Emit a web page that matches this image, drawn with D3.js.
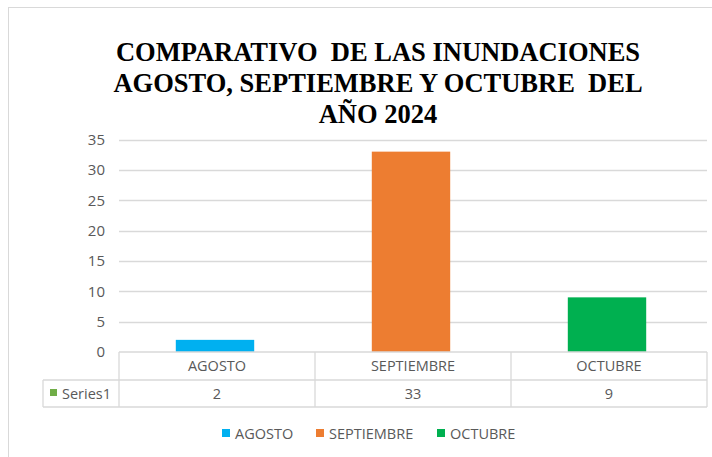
<!DOCTYPE html>
<html>
<head>
<meta charset="utf-8">
<script src="https://cdn.jsdelivr.net/npm/d3@7"></script>
<style>
  body { margin: 0; background: #fff; }
  svg text { font-family: "Open Sans", "Noto Sans", sans-serif; }
</style>
</head>
<body>
<div id="chart"></div>
<script>
// datos del grafico
const meses = ["AGOSTO", "SEPTIEMBRE", "OCTUBRE"];
const inundaciones = [2, 33, 9];
const colores = ["#00B0F0", "#ED7D31", "#00B050"];
const yTicks = [0, 5, 10, 15, 20, 25, 30, 35];
const serieNombre = "Series1";
const titulo = ["COMPARATIVO  DE LAS INUNDACIONES", "AGOSTO, SEPTIEMBRE Y OCTUBRE  DEL", "AÑO 2024"];

var width = 712
var height = 457

var svg = d3.select("#chart")
  .append("svg")
    .attr("width", width)
    .attr("height", height)

// borde del area del grafico
svg.append("rect")
  .attr("x", 8.5).attr("y", 7.5)
  .attr("width", 720).attr("height", 470)
  .attr("fill", "none")
  .attr("stroke", "#D9D9D9")

// titulo
svg.append("g").selectAll("text")
  .data(titulo)
  .enter()
  .append("text")
    .attr("x", 378)
    .attr("y", (d, i) => 61 + i * 31)
    .attr("text-anchor", "middle")
    .style("white-space", "pre")
    .style("font-family", "'Liberation Serif', 'Times New Roman', serif")
    .style("font-weight", "bold")
    .style("font-size", "26.5px")
    .style("fill", "#000")
    .text(d => d)

var mLeft = 119, mRight = 707, mTop = 139.5, mBottom = 352

var x = d3.scaleBand()
  .domain(meses)
  .range([mLeft, mRight])
  .paddingInner(0)
  .paddingOuter(0)

var y = d3.scaleLinear()
  .domain([0, 35])
  .range([mBottom, mTop])

// lineas de la cuadricula
svg.append("g")
  .selectAll("line")
  .data(yTicks.filter(t => t > 0))
  .enter()
  .append("line")
    .attr("x1", mLeft).attr("x2", mRight)
    .attr("y1", d => Math.round(y(d)) + 0.5)
    .attr("y2", d => Math.round(y(d)) + 0.5)
    .attr("stroke", "#D9D9D9")
    .attr("stroke-width", 1.3)

// eje y
var yAxis = svg.append("g")
  .attr("transform", "translate(" + (mLeft - 14) + ",0)")
  .call(d3.axisLeft(y).tickValues(yTicks).tickSize(0).tickPadding(0))
yAxis.select(".domain").remove()
yAxis.selectAll("text")
  .style("font-family", "'Open Sans', sans-serif")
  .style("font-size", "15px")
  .style("fill", "#595959")

// barras
var barW = x.bandwidth() * 0.4
svg.append("g")
  .selectAll("rect")
  .data(meses)
  .enter()
  .append("rect")
    .attr("x", d => x(d) + (x.bandwidth() - barW) / 2 - 2)
    .attr("y", (d, i) => y(inundaciones[i]))
    .attr("width", barW)
    .attr("height", (d, i) => mBottom - y(inundaciones[i]))
    .attr("fill", (d, i) => colores[i])

// tabla de datos
var row1 = mBottom, row2 = 380, row3 = 407, tableLeft = 43
var tabla = svg.append("g")
  .attr("stroke", "#D9D9D9")
  .attr("stroke-width", 1.3)
  .attr("fill", "none")

tabla.append("line").attr("x1", mLeft).attr("x2", mRight).attr("y1", row1).attr("y2", row1)
tabla.append("line").attr("x1", tableLeft).attr("x2", mRight).attr("y1", row2).attr("y2", row2)
tabla.append("line").attr("x1", tableLeft).attr("x2", mRight).attr("y1", row3).attr("y2", row3)
tabla.append("line").attr("x1", tableLeft).attr("x2", tableLeft).attr("y1", row2).attr("y2", row3)
tabla.selectAll(".v")
  .data(meses.map(m => x(m)).concat([mRight]))
  .enter()
  .append("line")
    .attr("x1", d => d).attr("x2", d => d)
    .attr("y1", row1).attr("y2", row3)

svg.append("g")
  .selectAll("text")
  .data(meses)
  .enter()
  .append("text")
    .attr("x", d => x(d) + x.bandwidth() / 2)
    .attr("y", 371)
    .attr("text-anchor", "middle")
    .style("font-size", "14.5px")
    .style("fill", "#595959")
    .text(d => d)

svg.append("g")
  .selectAll("text")
  .data(inundaciones)
  .enter()
  .append("text")
    .attr("x", (d, i) => x(meses[i]) + x.bandwidth() / 2)
    .attr("y", 399)
    .attr("text-anchor", "middle")
    .style("font-size", "14.5px")
    .style("fill", "#595959")
    .text(d => d)

svg.append("rect")
  .attr("x", 50).attr("y", 389)
  .attr("width", 7).attr("height", 7)
  .attr("fill", "#70AD47")
svg.append("text")
  .attr("x", 62).attr("y", 399)
  .style("font-size", "14.5px")
  .style("fill", "#595959")
  .text(serieNombre)

// leyenda
var legendX = [222, 316, 437]
var leyenda = svg.append("g")
  .selectAll("g")
  .data(meses)
  .enter()
  .append("g")
    .attr("transform", (d, i) => "translate(" + legendX[i] + ",429)")
leyenda.append("rect")
  .attr("width", 8).attr("height", 8)
  .attr("fill", (d, i) => colores[i])
leyenda.append("text")
  .attr("x", 13).attr("y", 9.5)
  .style("font-size", "14.5px")
  .style("fill", "#595959")
  .text(d => d)
</script>
</body>
</html>
